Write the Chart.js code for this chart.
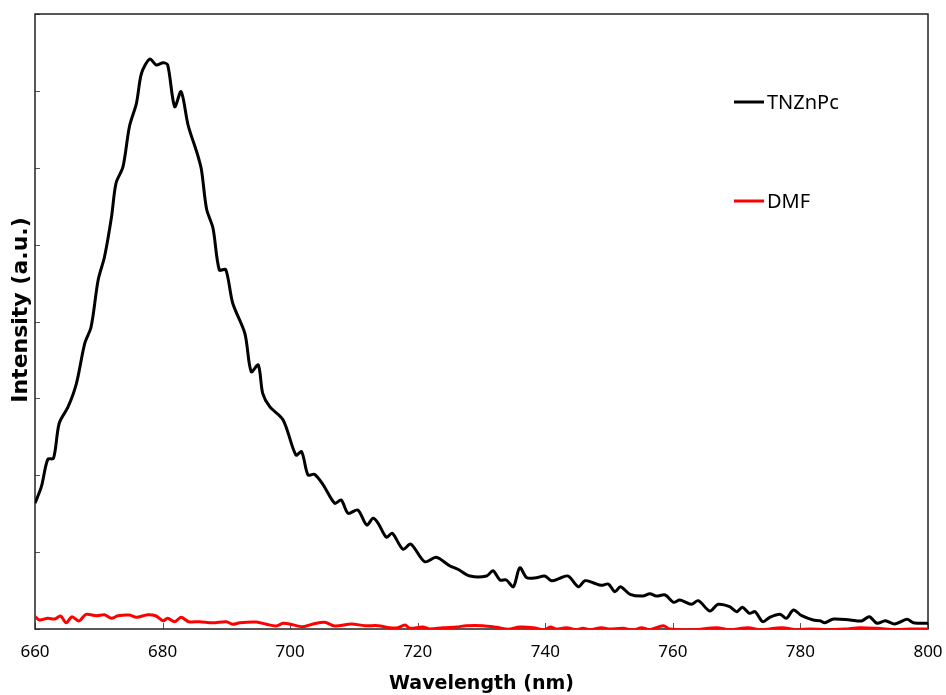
<!DOCTYPE html>
<html>
<head>
<meta charset="utf-8">
<script src="https://cdn.jsdelivr.net/npm/chart.js@4.4.1/dist/chart.umd.min.js"></script>
<style>
  html, body { margin: 0; padding: 0; background: #fff; }
  #wrap { width: 946px; height: 695px; position: relative; }
</style>
</head>
<body>
<div id="wrap"><canvas id="spectrum"></canvas></div>
<script>
// ---- data ----
const xTicks = [660, 680, 700, 720, 740, 760, 780, 800];

// TNZnPc emission
const tnWave = [660.0, 661.0, 662.0, 662.9, 663.8, 665.2, 666.5, 667.8, 668.8, 669.9,
  670.9, 672.0, 672.7, 673.8, 674.8, 675.9, 676.7, 678.0, 679.0, 680.1,
  680.8, 681.9, 682.9, 684.0, 685.5, 686.1, 686.9, 687.9, 688.9, 689.9,
  691.0, 692.9, 693.9, 695.0, 695.7, 696.8, 698.9, 700.9, 701.8, 702.8,
  703.8, 705.2, 707.0, 708.0, 709.1, 710.6, 712.0, 713.0, 713.8, 715.1,
  716.0, 717.7, 718.9, 721.1, 722.9, 725.0, 726.3, 728.2, 730.8, 731.8,
  732.9, 733.9, 735.0, 736.0, 737.1, 738.6, 739.9, 741.0, 742.3, 743.6,
  745.2, 746.2, 747.5, 748.8, 749.9, 750.9, 751.8, 753.3, 755.3, 756.4,
  757.4, 758.8, 760.1, 761.1, 762.9, 764.0, 765.8, 767.1, 768.9, 770.0,
  770.9, 772.0, 772.9, 774.1, 775.2, 776.8, 777.8, 778.9, 780.2, 782.0,
  783.1, 783.8, 785.2, 787.8, 789.6, 790.8, 792.0, 793.3, 794.8, 796.7,
  797.7, 800.0];
const tnInt = [1.635, 1.851, 2.207, 2.220, 2.676, 2.892, 3.196, 3.716, 3.932, 4.540,
  4.843, 5.363, 5.798, 6.014, 6.534, 6.838, 7.229, 7.415, 7.337, 7.366,
  7.337, 6.794, 6.989, 6.556, 6.166, 5.971, 5.463, 5.216, 4.670, 4.676,
  4.237, 3.846, 3.347, 3.434, 3.066, 2.892, 2.719, 2.263, 2.306, 2.003,
  2.012, 1.873, 1.635, 1.678, 1.505, 1.548, 1.353, 1.440, 1.375, 1.193,
  1.245, 1.037, 1.106, 0.875, 0.933, 0.823, 0.777, 0.689, 0.689, 0.758,
  0.637, 0.637, 0.550, 0.797, 0.667, 0.667, 0.689, 0.628, 0.660, 0.689,
  0.550, 0.628, 0.602, 0.568, 0.585, 0.485, 0.550, 0.451, 0.429, 0.459,
  0.429, 0.442, 0.347, 0.377, 0.321, 0.368, 0.234, 0.321, 0.290, 0.225,
  0.282, 0.204, 0.225, 0.095, 0.152, 0.191, 0.139, 0.247, 0.173, 0.117,
  0.108, 0.082, 0.130, 0.117, 0.104, 0.160, 0.074, 0.108, 0.065, 0.126,
  0.082, 0.074];

// DMF blank
const dmfWave = [660.0, 660.7, 662.0, 663.1, 664.0, 664.9, 665.8, 666.9, 668.0, 669.6,
  670.9, 672.0, 673.0, 674.8, 675.9, 677.7, 679.0, 680.1, 680.8, 681.9,
  682.9, 684.1, 685.8, 687.9, 690.0, 691.0, 692.1, 694.7, 696.3, 697.8,
  698.9, 699.9, 702.0, 703.6, 705.4, 707.0, 709.6, 711.7, 713.8, 715.6,
  716.9, 718.0, 718.8, 720.8, 721.9, 724.0, 726.1, 727.6, 730.2, 732.3,
  734.2, 736.0, 738.1, 739.9, 740.8, 741.8, 743.3, 744.9, 745.9, 747.0,
  748.8, 750.1, 752.2, 753.8, 755.1, 756.4, 758.5, 759.5, 763.2, 766.9,
  768.9, 771.8, 773.7, 777.1, 779.4, 781.5, 784.1, 787.0, 789.3, 792.0,
  795.1, 797.2, 800.0];
const dmfInt = [0.160, 0.117, 0.139, 0.130, 0.169, 0.082, 0.160, 0.104, 0.191, 0.173,
  0.186, 0.139, 0.173, 0.182, 0.152, 0.186, 0.169, 0.108, 0.139, 0.095,
  0.152, 0.095, 0.095, 0.082, 0.095, 0.061, 0.082, 0.091, 0.061, 0.039,
  0.074, 0.065, 0.030, 0.065, 0.087, 0.039, 0.065, 0.043, 0.043, 0.017,
  0.017, 0.052, 0.009, 0.026, 0.000, 0.017, 0.026, 0.043, 0.043, 0.022,
  -0.004, 0.026, 0.017, -0.009, 0.026, 0.000, 0.017, -0.009, 0.009, -0.009,
  0.017, 0.000, 0.009, -0.013, 0.017, -0.009, 0.043, 0.000, -0.009, 0.017,
  -0.009, 0.017, -0.009, 0.017, -0.009, 0.000, -0.009, 0.000, 0.017, 0.009,
  -0.009, 0.000, 0.000];

const toPoints = (xs, ys) => xs.map((x, i) => ({ x: x, y: ys[i] }));

// ---- plugins: frame with inside ticks, and the free-floating legend ----
const frameTicks = {
  id: 'frameTicks',
  beforeDatasetsDraw(chart) {
    const { ctx, chartArea: a, scales } = chart;
    ctx.save();
    ctx.strokeStyle = '#555';
    ctx.lineWidth = 1;
    ctx.beginPath();
    scales.y.ticks.forEach((t, i) => {
      const py = Math.round(scales.y.getPixelForTick(i)) + 0.5;
      ctx.moveTo(a.left, py); ctx.lineTo(a.left + 5, py);
    });
    scales.x.ticks.forEach((t, i) => {
      const px = Math.round(scales.x.getPixelForTick(i)) + 0.5;
      ctx.moveTo(px, a.bottom); ctx.lineTo(px, a.bottom - 6);
    });
    ctx.stroke();
    ctx.strokeStyle = '#222';
    ctx.lineWidth = 1.5;
    ctx.strokeRect(a.left, a.top, a.right - a.left, a.bottom - a.top);
    ctx.restore();
  }
};

const floatLegend = {
  id: 'floatLegend',
  afterDraw(chart) {
    const ctx = chart.ctx;
    const rows = [102, 201];
    ctx.save();
    ctx.font = '20px "Noto Sans"';
    ctx.textBaseline = 'middle';
    chart.data.datasets.forEach((ds, i) => {
      const y = rows[i];
      ctx.strokeStyle = ds.borderColor;
      ctx.lineWidth = 3;
      ctx.beginPath();
      ctx.moveTo(734, y); ctx.lineTo(764, y);
      ctx.stroke();
      ctx.fillStyle = '#000';
      ctx.fillText(ds.label, 767, y + 1);
    });
    ctx.restore();
  }
};

// ---- chart ----
new Chart(document.getElementById('spectrum'), {
  type: 'line',
  data: {
    datasets: [
      { label: 'TNZnPc', data: toPoints(tnWave, tnInt), borderColor: '#000000', borderWidth: 3, pointRadius: 0, tension: 0.3 },
      { label: 'DMF', data: toPoints(dmfWave, dmfInt), borderColor: '#ff0000', borderWidth: 3, pointRadius: 0, tension: 0.3 }
    ]
  },
  options: {
    responsive: true,
    maintainAspectRatio: false,
    animation: false,
    layout: { padding: { top: 14, right: 18, left: 0, bottom: 0 } },
    plugins: { legend: { display: false }, tooltip: { enabled: false } },
    scales: {
      x: {
        type: 'linear', min: 660, max: 800,
        afterBuildTicks: s => { s.ticks = xTicks.map(v => ({ value: v })); },
        afterFit: s => { s.height = 66; s.paddingLeft = 0; s.paddingRight = 0; },
        grid: { display: false },
        border: { display: false },
        ticks: { padding: 5, color: '#000', font: { family: 'Noto Sans', size: 17 } },
        title: { display: true, text: 'Wavelength (nm)', color: '#000',
          font: { family: 'DejaVu Sans', size: 19, weight: 'bold' }, padding: { top: 0, bottom: 0 } }
      },
      y: {
        type: 'linear', min: 0, max: 8,
        ticks: { display: false, stepSize: 1 },
        afterFit: s => { s.width = 35; },
        grid: { display: false },
        border: { display: false },
        title: { display: true, text: '   Intensity (a.u.)', color: '#000',
          font: { family: 'DejaVu Sans', size: 22, weight: 'bold' }, padding: { top: 8, bottom: 0 } }
      }
    }
  },
  plugins: [frameTicks, floatLegend]
});
</script>
</body>
</html>
